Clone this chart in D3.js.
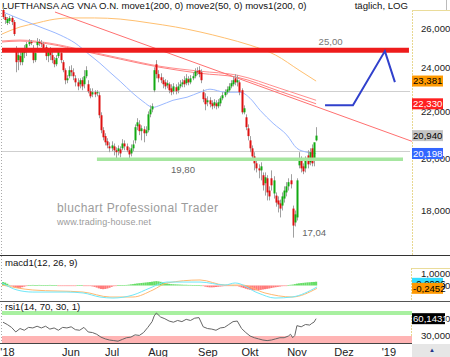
<!DOCTYPE html>
<html><head><meta charset="utf-8">
<script src="https://cdn.jsdelivr.net/npm/d3@7"></script>
<style>body{margin:0;background:#fff;overflow:hidden}svg{display:block;font-family:"Liberation Sans",Arial,sans-serif}</style>
</head><body><svg id="c" width="450" height="357"></svg>
<script>
// ---------- data ----------
const opens=[26.99,26.61,26.29,26.40,26.56,26.34,24.99,24.39,24.59,24.29,
24.74,24.89,25.19,25.30,24.89,24.39,25.14,25.30,25.24,25.19,
25.04,24.59,24.79,24.64,24.39,24.19,24.59,24.74,24.29,23.90,
23.42,23.61,23.90,23.80,23.51,23.32,23.23,23.42,23.23,23.61,
23.23,22.90,22.76,22.86,22.81,22.72,21.82,21.17,20.92,20.70,
20.49,20.41,20.49,20.33,20.29,20.37,20.41,20.61,20.49,20.33,
20.20,20.41,20.74,21.34,21.42,21.13,21.21,21.04,21.17,21.86,
22.08,22.95,24.19,23.71,23.56,23.42,23.32,23.18,23.23,23.04,
22.90,23.09,22.95,23.13,23.23,23.42,23.28,23.47,23.32,23.51,
23.61,23.85,23.90,23.80,22.86,22.58,22.40,22.49,22.35,22.26,
22.35,22.22,22.35,22.58,22.72,22.86,22.95,23.13,23.23,23.51,
23.32,23.32,22.95,21.95,21.73,21.25,20.74,20.41,20.08,19.80,
19.60,19.52,19.33,19.02,19.21,18.74,19.21,18.63,18.55,18.37,
18.26,18.18,18.44,18.67,18.90,19.13,18.07,17.57,17.75,19.72,
19.92,19.68,19.60,20.12,19.84,20.41,20.00,20.74];
const highs=[27.15,26.77,26.61,26.66,26.66,26.45,25.09,24.89,24.89,24.89,
25.14,25.30,25.45,25.40,25.14,24.89,25.50,25.45,25.40,25.30,
25.14,24.99,25.04,24.89,24.54,24.64,24.99,24.84,24.39,23.99,
23.66,24.09,24.14,23.99,23.66,23.51,23.51,23.56,23.90,24.09,
23.42,23.04,23.04,22.95,22.95,22.86,21.95,21.30,21.04,20.83,
20.66,20.70,20.61,20.45,20.53,20.49,20.79,20.74,20.61,20.45,
20.57,20.74,21.42,21.69,21.60,21.38,21.34,21.34,21.99,22.26,
22.35,24.04,24.39,23.90,23.75,23.56,23.47,23.42,23.32,23.23,
23.28,23.23,23.32,23.42,23.47,23.61,23.71,23.61,23.66,23.80,
23.99,24.04,24.09,23.94,22.99,22.81,22.67,22.63,22.49,22.54,
22.49,22.54,22.67,22.86,22.99,23.13,23.28,23.42,23.61,23.71,
23.66,23.42,23.04,22.26,21.86,21.42,20.92,20.53,20.25,19.92,
19.76,19.84,19.44,19.44,19.33,18.90,19.52,19.29,18.67,18.52,
18.40,18.67,18.90,19.06,19.21,19.37,18.18,18.00,19.21,20.25,
20.08,19.80,20.08,20.33,20.41,20.57,20.61,21.30];
const lows=[26.50,26.24,26.18,26.24,26.18,25.61,23.80,23.90,24.14,24.14,
24.49,24.59,25.09,25.14,24.24,24.29,24.99,25.09,25.04,24.89,
24.39,24.29,24.39,24.24,24.04,24.09,24.49,24.24,23.80,23.23,
23.28,23.51,23.61,23.42,23.13,22.95,23.04,22.95,23.04,23.51,
22.81,22.58,22.63,22.63,22.67,21.69,21.04,20.74,20.53,20.41,
20.25,20.29,20.12,19.92,20.12,20.04,20.33,20.33,20.25,20.00,
20.08,20.29,20.61,21.17,20.96,20.74,20.66,20.92,21.08,21.73,
21.95,22.86,23.51,23.32,23.28,23.04,22.99,23.04,22.81,22.72,
22.76,22.76,22.81,23.04,23.09,23.09,23.18,23.18,23.23,23.42,
23.51,23.66,23.56,23.28,22.40,22.04,22.22,22.17,22.08,22.13,
22.08,22.13,22.22,22.49,22.63,22.76,22.86,23.04,23.13,23.18,
23.13,22.72,21.86,21.86,21.17,20.74,20.25,19.92,19.52,19.44,
19.21,19.13,18.74,18.55,18.37,18.37,18.74,18.44,18.14,17.93,
17.75,18.00,18.29,18.52,18.74,18.82,17.04,17.43,17.64,19.60,
19.44,19.37,19.44,19.60,19.72,19.68,19.68,20.70];
const closes=[26.61,26.45,26.50,26.56,26.34,25.71,24.29,24.64,24.29,24.79,
24.99,25.19,25.30,25.24,24.39,24.74,25.30,25.24,25.19,24.99,
24.59,24.79,24.64,24.39,24.19,24.49,24.84,24.39,23.90,23.42,
23.51,23.90,23.80,23.61,23.32,23.13,23.42,23.13,23.61,23.90,
22.90,22.67,22.86,22.76,22.86,21.82,21.17,20.87,20.66,20.53,
20.41,20.53,20.33,20.25,20.41,20.20,20.61,20.49,20.33,20.16,
20.41,20.57,21.30,21.51,21.13,21.25,21.04,21.17,21.86,22.08,
22.22,23.90,23.71,23.51,23.42,23.23,23.13,23.28,22.95,22.86,
23.13,22.90,23.13,23.23,23.32,23.23,23.51,23.32,23.51,23.61,
23.85,23.80,23.71,23.42,22.54,22.31,22.49,22.31,22.22,22.40,
22.22,22.40,22.58,22.72,22.86,22.99,23.13,23.28,23.42,23.32,
23.42,22.86,21.95,22.13,21.30,20.92,20.41,20.08,19.80,19.60,
19.52,19.68,18.94,19.25,18.67,18.52,18.94,19.13,18.29,18.22,
18.07,18.52,18.74,18.90,19.06,18.98,17.46,17.86,19.13,20.00,
19.60,19.48,19.92,19.76,20.25,19.80,20.66,20.94];

// moving averages (candle index, price)
const move1Idx=[-0.5,8,16,22,31.5,43,55,69,81,92.5,104,116,128,139,147];
const move1Val=[25.71,26.08,26.29,26.45,26.56,26.56,26.50,26.29,26.08,25.82,25.51,25.14,24.64,23.90,23.38];
const move2Idx=[0,8,17.4,26.8,33.8,40.8,45.5,50.2,55,61,65.7,70.4,73.7,79.8,86.4,92.5,97.2,104.2,111.3,116,120.7,126.8,133.3,138,142.7,147];
const move2Val=[26.88,26.50,26.08,25.66,25.25,24.64,24.24,23.80,23.37,22.81,22.44,22.17,22.26,22.49,22.63,22.86,23.00,22.86,22.86,22.58,22.04,21.47,20.96,20.41,20.25,20.20];
const movsIdx=[-0.5,8,22,37.6,55,73.7,92.5,110,130,147];
const movsAVal=[25.35,25.40,25.24,24.89,24.49,24.09,23.85,23.66,23.04,22.49];
const movsBVal=[25.30,25.35,25.19,24.84,24.44,24.04,23.75,23.56,22.90,22.33];
const trendIdx=[24.4,192];
const trendVal=[26.88,20.70];
const projIdx=[151.2,164.3,179.3,184];
const projVal=[22.26,22.26,24.84,23.33];

// horizontal levels
const resistVal=24.88, resistLabel="25,00";
const supportVal=19.96, supportLabel="19,80";
const grayLevels=[22.93,20.29];
const lowLabel="17,04", lowIdx=136;

// price axis
const priceTicks=[26,24,22,20,18];
const priceTickLabels=["26,000","24,000","22,000","20,000","18,000"];
const lastVals=[
 {v:23.381,t:"23,381",bg:"#ff9900",fg:"#000"},
 {v:22.330,t:"22,330",bg:"#ff2020",fg:"#fff"},
 {v:20.940,t:"20,940",bg:"#c4c4c4",fg:"#000"},
 {v:20.198,t:"20,198",bg:"#3366ff",fg:"#fff"}];

// MACD
const macdIdx=[-0.5,6.6,14,30,37.6,45.5,51.6,61,69,77,84.5,92.5,104.2,109,119.7,127.7,135.7,147.4];
const macdVal=[0.22,-0.39,-0.57,-0.57,-0.65,-1.0,-1.09,-0.83,-0.22,0.30,0.30,0.30,0.04,0.22,-0.65,-1.09,-1.0,-0.13];
const sigIdx=[-0.5,14,37.6,50.2,61,70.4,77,92.5,104.2,112.2,123,135.7,147.4];
const sigVal=[0.04,-0.39,-0.57,-1.0,-1.0,-0.39,0.22,0.48,0.04,0.04,-0.65,-1.0,-0.25];
const hist=[0.30,0.25,0.15,0.05,
-0.05,-0.12,-0.20,-0.22,-0.20,-0.15,-0.10,-0.05,
0.02,0.04,0.05,0.04,0.03,0.05,0.04,0.03,0.02,0.04,0.05,0.03,0.02,0.01,-0.01,-0.02,-0.03,-0.02,-0.01,
-0.02,-0.03,-0.02,-0.01,0.01,0.02,0.01,-0.01,-0.02,-0.03,-0.05,
-0.08,-0.12,-0.18,-0.25,-0.30,-0.32,-0.30,-0.26,-0.20,-0.12,-0.06,
-0.02,0.01,0.02,0.03,0.04,0.05,0.07,
0.10,0.12,0.15,0.18,0.20,0.22,0.24,0.26,0.28,0.30,0.33,0.36,0.38,0.36,0.32,0.27,0.22,0.17,
0.14,0.12,0.11,0.10,0.09,0.08,0.07,0.06,0.06,0.05,0.05,0.04,0.04,0.03,0.02,0.00,
-0.05,-0.10,-0.14,-0.16,-0.16,-0.15,-0.13,-0.11,-0.09,-0.07,-0.05,-0.03,-0.02,-0.01,0.00,-0.02,-0.05,-0.10,
-0.16,-0.22,-0.28,-0.33,-0.37,-0.40,-0.42,-0.42,-0.40,-0.38,-0.35,-0.32,-0.29,-0.26,-0.22,-0.18,-0.15,-0.12,-0.09,-0.06,-0.03,-0.01,
0.03,0.06,0.08,0.12,0.16,0.19,0.21,0.23,0.25,0.27,0.28,0.30,0.31,0.33];
const macdTicks=[1,0], macdTickLabels=["1,0000","0,0000"];
const macdLastLabel="-0,0906", sigLastLabel="-0,2452", sigLast=-0.2452;

// RSI
const rsiIdx=[0,2,4,6,8,10,12,14,16,18,20,22,24,26,28,30,32,34,36,38,40,42,44,46,48,50,52,54,56,58,60,62,64,66,68,70,71,72,74,76,78,80,82,84,86,88,90,92,94,96,98,100,102,104,106,108,110,112,114,116,118,120,122,124,126,128,130,132,134,135,136,137,138,140,142,144,145,146,147];
const rsiVal=[54,50,45,37,43,40,45,44,47,44,47,42,44,40,45,44,46,41,40,45,37,36,33,28,25,23,22,21,24,27,28,32,31,36,45,55,65,70,63,60,56,54,57,55,59,57,61,62,46,43,42,40,44,45,50,55,56,43,36,30,27,25,23,22,23,25,27,27,30,33,27,31,48,46,50,49,52,54,60.14];
const rsiTicks=[60,30], rsiTickLabels=["60,0000","30,0000"];
const rsiLastLabel="60,1431";

// time axis
const monthIdx=[2.1,31.9,51.2,72.8,96.2,116,138,160.1,181.2];
const monthLabels=["'18","Jun","Jul","Aug","Sep","Okt","Nov","Dez","'19"];

const title="LUFTHANSA AG VNA O.N. move1(200, 0) move2(50, 0) movs1(200, 0)";
const titleRight="täglich, LOG";

// ---------- scales ----------
const W=450,H=357, PR=412;
const xS=d3.scaleLinear().domain([0,147]).range([3,316.1]);
const yP=d3.scaleLog().domain([26,18]).range([28.5,210.5]);
const yM=d3.scaleLinear().domain([1,0]).range([274,285.5]);
const yR=d3.scaleLinear().domain([70,30]).range([313,336]);

const svg=d3.select("#c");
const defs=svg.append("defs");
defs.append("clipPath").attr("id","cm").append("rect").attr("x",2).attr("y",0).attr("width",PR-2).attr("height",255);
defs.append("clipPath").attr("id","cmacd").append("rect").attr("x",2).attr("y",257).attr("width",PR-2).attr("height",43);
defs.append("clipPath").attr("id","crsi").append("rect").attr("x",2).attr("y",302).attr("width",PR-2).attr("height",41);

// ---------- frames ----------
const dot="1,2";
svg.append("line").attr("x1",1.5).attr("x2",1.5).attr("y1",10).attr("y2",343).attr("stroke","#aaa").attr("stroke-dasharray",dot);
svg.append("line").attr("x1",PR+0.5).attr("x2",PR+0.5).attr("y1",10).attr("y2",255).attr("stroke","#e8d890").attr("stroke-dasharray","2,1");
svg.append("line").attr("x1",PR).attr("x2",W).attr("y1",10.5).attr("y2",10.5).attr("stroke","#eadc9a");
svg.append("line").attr("x1",446.5).attr("x2",446.5).attr("y1",0).attr("y2",10).attr("stroke","#bbb");
svg.append("line").attr("x1",PR-0.5).attr("x2",PR-0.5).attr("y1",268).attr("y2",300).attr("stroke","#e8d890").attr("stroke-dasharray","2,1");
svg.append("line").attr("x1",PR).attr("x2",W).attr("y1",268.5).attr("y2",268.5).attr("stroke","#eadc9a");
svg.append("line").attr("x1",PR-0.5).attr("x2",PR-0.5).attr("y1",313).attr("y2",343).attr("stroke","#e8d890").attr("stroke-dasharray","2,1");
svg.append("line").attr("x1",0).attr("x2",W).attr("y1",255.5).attr("y2",255.5).attr("stroke","#333");
svg.append("line").attr("x1",0).attr("x2",W).attr("y1",301.5).attr("y2",301.5).attr("stroke","#555");
svg.append("line").attr("x1",0).attr("x2",PR).attr("y1",343.5).attr("y2",343.5).attr("stroke","#444");
svg.append("rect").attr("x",PR).attr("y",344).attr("width",W-PR).attr("height",13).attr("fill","#e6e6e6");
svg.append("text").attr("x",432).attr("y",352).attr("text-anchor","middle").attr("font-size",6).attr("fill","#223388").text("▲");

// ---------- titles ----------
svg.append("text").attr("x",2).attr("y",9.3).attr("font-size",9.6).attr("fill","#111").text(title);
svg.append("text").attr("x",408).attr("y",9.3).attr("text-anchor","end").attr("font-size",9.6).attr("fill","#111").text(titleRight);

// ---------- main panel ----------
const gm=svg.append("g").attr("clip-path","url(#cm)");
// watermark
gm.append("text").attr("x",57).attr("y",212).attr("font-size",12).attr("fill","#9c9c9c")
  .attr("textLength",161).attr("lengthAdjust","spacing").text("bluchart Professional Trader");
gm.append("text").attr("x",57).attr("y",224.5).attr("font-size",9).attr("fill","#9c9c9c")
  .attr("textLength",94).attr("lengthAdjust","spacing").text("www.trading-house.net");

grayLevels.forEach(v=>{
  gm.append("line").attr("x1",2).attr("x2",410).attr("y1",Math.round(yP(v))+0.5).attr("y2",Math.round(yP(v))+0.5).attr("stroke","#cfcfcf");
});
const line=(xs,ys,yscale,curve)=>d3.line().x((d,i)=>xS(xs[i])).y((d,i)=>yscale(ys[i])).curve(curve||d3.curveMonotoneX)(ys);

gm.append("path").attr("d",line(move1Idx,move1Val,yP)).attr("fill","none").attr("stroke","#ffc070").attr("stroke-width",1);
gm.append("path").attr("d",line(movsIdx,movsAVal,yP)).attr("fill","none").attr("stroke","#ff9090").attr("stroke-width",1);
gm.append("path").attr("d",line(movsIdx,movsBVal,yP)).attr("fill","none").attr("stroke","#ff8080").attr("stroke-width",1);
gm.append("path").attr("d",line(trendIdx,trendVal,yP,d3.curveLinear)).attr("fill","none").attr("stroke","#ff7070").attr("stroke-width",1);
gm.append("path").attr("d",line(move2Idx,move2Val,yP)).attr("fill","none").attr("stroke","#9ab8ff").attr("stroke-width",1);

// candles
const cg=gm.append("g");
closes.forEach((c,i)=>{
  const o=opens[i],h=highs[i],l=lows[i];
  const x=xS(i);
  cg.append("line").attr("x1",Math.round(x)+0.5).attr("x2",Math.round(x)+0.5).attr("y1",yP(h)).attr("y2",yP(l)).attr("stroke","#a0a0a0");
  const y1=Math.min(yP(o),yP(c)), y2=Math.max(yP(o),yP(c));
  cg.append("rect").attr("x",Math.round(x)-0.5).attr("width",2).attr("y",y1).attr("height",Math.max(1,y2-y1))
    .attr("fill",c>=o?"#12aa12":"#dd1111");
});

// levels
const xr0=xS(-0.5), xr1=xS(190.6);
gm.append("line").attr("x1",xr0).attr("x2",xr1).attr("y1",yP(resistVal)).attr("y2",yP(resistVal)).attr("stroke","#ee1c1c").attr("stroke-width",5);
gm.append("line").attr("x1",xS(44.1)).attr("x2",xS(187.8)).attr("y1",yP(supportVal)).attr("y2",yP(supportVal)).attr("stroke","#a6e6a0").attr("stroke-width",3.5);
gm.append("text").attr("x",xS(153.8)).attr("y",yP(resistVal)-4.8).attr("text-anchor","middle").attr("font-size",9.6).attr("fill","#777").text(resistLabel);
gm.append("text").attr("x",xS(84.5)).attr("y",yP(supportVal)+13.3).attr("text-anchor","middle").attr("font-size",9.6).attr("fill","#666").text(supportLabel);
gm.append("text").attr("x",xS(lowIdx)+9.5).attr("y",yP(lows[lowIdx])-1.5).attr("font-size",9.6).attr("fill","#666").text(lowLabel);
gm.append("path").attr("d",line(projIdx,projVal,yP,d3.curveLinear)).attr("fill","none").attr("stroke","#3040cc").attr("stroke-width",2);

// price axis
priceTicks.forEach((v,i)=>{
  svg.append("text").attr("x",421).attr("y",yP(v)).attr("dy","0.35em").attr("font-size",9.6).attr("fill","#222").text(priceTickLabels[i]);
});
lastVals.forEach(d=>{
  const y=yP(d.v);
  svg.append("rect").attr("x",PR).attr("y",y-5.5).attr("width",31).attr("height",11).attr("fill",d.bg);
  svg.append("text").attr("x",PR+1).attr("y",y).attr("dy","0.35em").attr("font-size",9.6).attr("fill",d.fg).text(d.t);
});

// ---------- MACD ----------
svg.append("text").attr("x",5).attr("y",265.5).attr("font-size",9.6).attr("fill","#111").text("macd1(12, 26, 9)");
const gM=svg.append("g").attr("clip-path","url(#cmacd)");
hist.forEach((v,i)=>{
  const y0=yM(0), y1=yM(v);
  gM.append("rect").attr("x",xS(i)-1.07).attr("width",2.14).attr("y",Math.min(y0,y1)).attr("height",Math.max(0.6,Math.abs(y1-y0)))
    .attr("fill",v>=0?"#66dd66":"#ff7a7a");
});
gM.append("path").attr("d",line(sigIdx,sigVal,yM)).attr("fill","none").attr("stroke","#ffb870").attr("stroke-width",1);
gM.append("path").attr("d",line(macdIdx,macdVal,yM)).attr("fill","none").attr("stroke","#70e8f8").attr("stroke-width",1);
macdTicks.forEach((v,i)=>{
  svg.append("text").attr("x",421).attr("y",yM(v)).attr("dy","0.35em").attr("font-size",9.6).attr("fill","#222").text(macdTickLabels[i]);
});
const ySig=yM(sigLast);
svg.append("rect").attr("x",PR).attr("y",ySig-10.5).attr("width",31).attr("height",11).attr("fill","#33ddff");
svg.append("text").attr("x",PR+1).attr("y",ySig-5).attr("dy","0.35em").attr("font-size",9.6).attr("fill","#000").text(macdLastLabel);
svg.append("rect").attr("x",PR).attr("y",ySig-5.5).attr("width",31).attr("height",11).attr("fill","#ff9900");
svg.append("text").attr("x",PR+1).attr("y",ySig).attr("dy","0.35em").attr("font-size",9.6).attr("fill","#000").text(sigLastLabel);

// ---------- RSI ----------
const gR=svg.append("g").attr("clip-path","url(#crsi)");
gR.append("rect").attr("x",2).attr("y",yR(30)).attr("width",PR-2).attr("height",343-yR(30)).attr("fill","#ffb4b4");
gR.append("line").attr("x1",2).attr("x2",PR).attr("y1",yR(70)).attr("y2",yR(70)).attr("stroke","#a8f0a0").attr("stroke-width",4);
gR.append("path").attr("d",line(rsiIdx,rsiVal,yR,d3.curveLinear)).attr("fill","none").attr("stroke","#666").attr("stroke-width",1);
svg.append("text").attr("x",5).attr("y",310).attr("font-size",9.6).attr("fill","#111").text("rsi1(14, 70, 30, 1)");
rsiTicks.forEach((v,i)=>{
  svg.append("text").attr("x",421).attr("y",yR(v)).attr("dy","0.35em").attr("font-size",9.6).attr("fill","#222").text(rsiTickLabels[i]);
});
const yRl=yR(rsiVal[rsiVal.length-1]);
svg.append("rect").attr("x",PR).attr("y",yRl-5.5).attr("width",33).attr("height",11).attr("fill","#000");
svg.append("text").attr("x",PR+1).attr("y",yRl).attr("dy","0.35em").attr("font-size",9.6).attr("fill","#fff").text(rsiLastLabel);

// ---------- time axis ----------
monthIdx.forEach((ix,i)=>{
  svg.append("text").attr("x",xS(ix)).attr("y",356).attr("text-anchor","middle").attr("font-size",11).attr("fill","#222").text(monthLabels[i]);
});
</script></body></html>
